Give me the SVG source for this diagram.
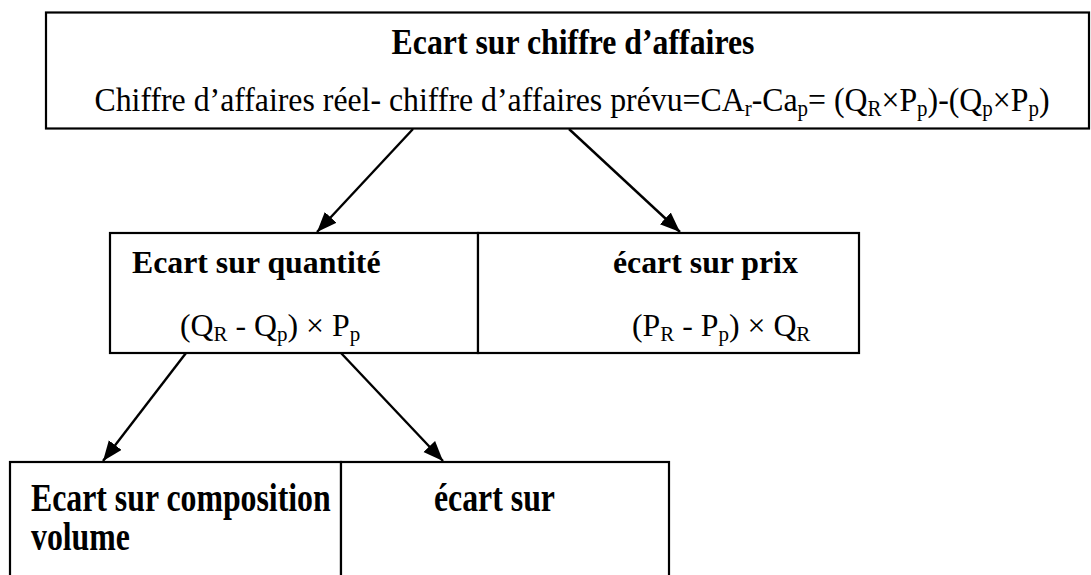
<svg xmlns="http://www.w3.org/2000/svg" width="1091" height="575" viewBox="0 0 1091 575">
<style>
.box{fill:#fff;stroke:#000;stroke-width:2.2}
.t{font-family:"Liberation Serif","Times New Roman",serif;font-size:31.8px;fill:#000}
.b{font-weight:bold}
.sub{font-size:21px}
.arrow{stroke:#000;stroke-width:2.4;fill:none;marker-end:url(#ah)}
</style>
<defs>
<marker id="ah" markerUnits="userSpaceOnUse" markerWidth="22" markerHeight="18" refX="20" refY="8" orient="auto">
<path d="M0,0 L20,8 L0,16 z" fill="#000"/>
</marker>
</defs>
<g id="node-top">
<rect class="box" x="46" y="12.5" width="1043" height="116"/>
<text class="t b" transform="translate(573,54) scale(1,1.12)" text-anchor="middle">Ecart sur chiffre d’affaires</text>
<text class="t" transform="translate(572,111) scale(1,1.05)" text-anchor="middle">Chiffre d’affaires réel- chiffre d’affaires prévu=CA<tspan class="sub" dy="5">r</tspan><tspan dy="-5">-Ca</tspan><tspan class="sub" dy="5">p</tspan><tspan dy="-5">= (Q</tspan><tspan class="sub" dy="5">R</tspan><tspan dy="-5">×P</tspan><tspan class="sub" dy="5">p</tspan><tspan dy="-5">)-(Q</tspan><tspan class="sub" dy="5">p</tspan><tspan dy="-5">×P</tspan><tspan class="sub" dy="5">p</tspan><tspan dy="-5">)</tspan></text>
</g>
<g id="node-quantite">
<rect class="box" x="110" y="233" width="368" height="120"/>
<text class="t b" x="132" y="273">Ecart sur quantité</text>
<text class="t" x="180" y="336">(Q<tspan class="sub" dy="5">R</tspan><tspan dy="-5"> - Q</tspan><tspan class="sub" dy="5">p</tspan><tspan dy="-5">) × P</tspan><tspan class="sub" dy="5">p</tspan></text>
</g>
<g id="node-prix">
<rect class="box" x="478" y="233" width="381" height="120"/>
<text class="t b" x="613" y="273">écart sur prix</text>
<text class="t" x="632" y="336">(P<tspan class="sub" dy="5">R</tspan><tspan dy="-5"> - P</tspan><tspan class="sub" dy="5">p</tspan><tspan dy="-5">) × Q</tspan><tspan class="sub" dy="5">R</tspan></text>
</g>
<g id="node-composition">
<rect class="box" x="10" y="462" width="331" height="130"/>
<text class="t b" transform="translate(31,511) scale(1,1.25)">Ecart sur composition</text>
<text class="t b" transform="translate(31,550) scale(1,1.25)">volume</text>
</g>
<g id="node-volume">
<rect class="box" x="341" y="462" width="328" height="130"/>
<text class="t b" transform="translate(434,511) scale(1,1.25)">écart sur</text>
</g>
<g id="connectors">
<line class="arrow" x1="413" y1="129" x2="317" y2="232"/>
<line class="arrow" x1="569" y1="129" x2="680" y2="232"/>
<line class="arrow" x1="186" y1="353" x2="103" y2="461"/>
<line class="arrow" x1="341" y1="353" x2="443" y2="461"/>
</g>
</svg>
